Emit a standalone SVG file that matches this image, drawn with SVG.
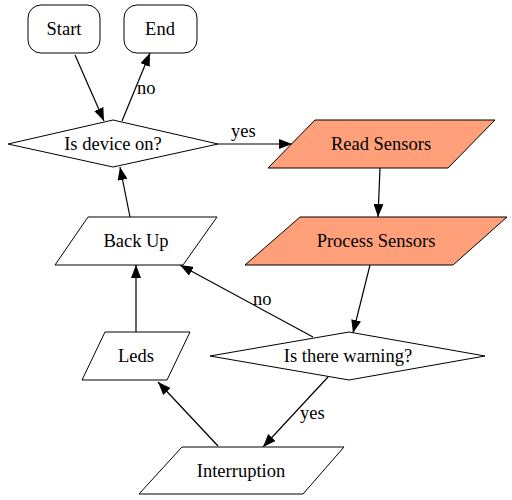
<svg xmlns="http://www.w3.org/2000/svg" width="512" height="500" viewBox="0 0 512 500">
<style>
.s{fill:#fff;stroke:#000;stroke-width:1}
.o{fill:#ffa07a;stroke:#000;stroke-width:1}
text{font-family:'Liberation Serif','Times New Roman',Times,serif;font-size:18.5px;fill:#000}
.c{text-anchor:middle}
.e{fill:none;stroke:#000;stroke-width:1.2}
</style>
<defs>
<marker id="a" markerUnits="userSpaceOnUse" markerWidth="13" markerHeight="10" refX="13" refY="5" orient="auto">
<path d="M0,0 L13,5 L0,10 z" fill="#000"/>
</marker>
</defs>
<rect width="512" height="500" fill="#fff"/>
<g id="edges" font-family="Liberation Serif, serif">
<path class="e" d="M75,55 L104,121" marker-end="url(#a)"/>
<path class="e" d="M122,121 L150,53" marker-end="url(#a)"/>
<text x="137" y="94">no</text>
<path class="e" d="M218,144 L292,144" marker-end="url(#a)"/>
<text x="231" y="137">yes</text>
<path class="e" d="M380,168 L378,217" marker-end="url(#a)"/>
<path class="e" d="M370,265 L353,333" marker-end="url(#a)"/>
<path class="e" d="M313,337 L180,265" marker-end="url(#a)"/>
<text x="253" y="305">no</text>
<path class="e" d="M130,217 L120,167" marker-end="url(#a)"/>
<path class="e" d="M136,332 L136,265" marker-end="url(#a)"/>
<path class="e" d="M328,377 L263,447" marker-end="url(#a)"/>
<text x="300" y="419">yes</text>
<path class="e" d="M218,446 L158,382" marker-end="url(#a)"/>
</g>
<g id="start"><rect class="s" x="28" y="5" width="72" height="48" rx="13"/><text class="c" x="64" y="35">Start</text></g>
<g id="end"><rect class="s" x="124" y="5" width="73" height="48" rx="13"/><text class="c" x="160" y="35">End</text></g>
<g id="deviceon"><polygon class="s" points="113,120 218,144 113,167 8,144"/><text class="c" x="113" y="150">Is device on?</text></g>
<g id="read"><polygon class="o" points="315,120 495,120 448,168 268,168"/><text class="c" x="381" y="150">Read Sensors</text></g>
<g id="process"><polygon class="o" points="300,217 507,217 453,265 245,265"/><text class="c" x="376" y="247">Process Sensors</text></g>
<g id="warning"><polygon class="s" points="349,332 485,356 349,380 210,356"/><text class="c" x="348" y="362">Is there warning?</text></g>
<g id="backup"><polygon class="s" points="88,217 217,217 183,265 55,265"/><text class="c" x="136" y="247">Back Up</text></g>
<g id="leds"><polygon class="s" points="105,332 190,332 167,380 82,380"/><text class="c" x="136" y="362">Leds</text></g>
<g id="interruption"><polygon class="s" points="182,447 344,447 303,494 139,494"/><text class="c" x="241" y="477">Interruption</text></g>
</svg>
